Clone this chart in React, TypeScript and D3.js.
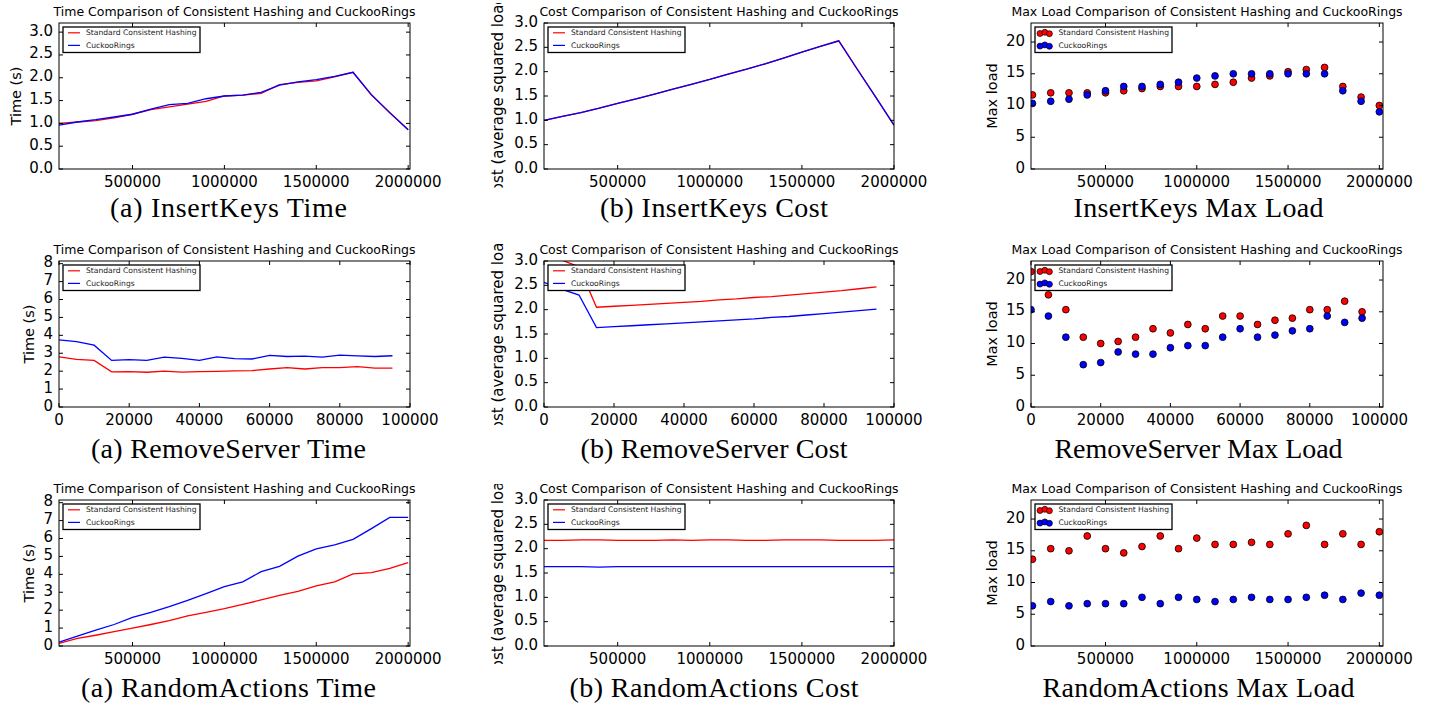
// App.tsx
//
// CuckooRings vs. standard consistent hashing — 3×3 grid of matplotlib-style
// panels (time / cost / max load for InsertKeys, RemoveServer, RandomActions),
// each with a LaTeX-like caption underneath.

import * as d3 from "d3";
import React from "react";

// ── Data ─────────────────────────────────────────────────────────────────────
const KEY_COUNTS = [
  100000, 200000, 300000, 400000, 500000, 600000, 700000, 800000, 900000, 1000000,
  1100000, 1200000, 1300000, 1400000, 1500000, 1600000, 1700000, 1800000, 1900000, 2000000,
];
const SERVERS_REMOVED = [
  0, 5000, 10000, 15000, 20000, 25000, 30000, 35000, 40000, 45000,
  50000, 55000, 60000, 65000, 70000, 75000, 80000, 85000, 90000, 95000,
];

const INSERT_TIME_STD    = [1.0, 1.03, 1.06, 1.12, 1.2, 1.3, 1.36, 1.42, 1.48, 1.6, 1.62, 1.66, 1.85, 1.9, 1.93, 2.02, 2.12, 1.62, 1.24, 0.86];
const INSERT_TIME_CUCKOO = [0.96, 1.03, 1.08, 1.14, 1.2, 1.31, 1.41, 1.44, 1.54, 1.6, 1.62, 1.68, 1.84, 1.91, 1.96, 2.03, 2.12, 1.63, 1.23, 0.86];

const INSERT_COST_STD    = [1.0, 1.08, 1.16, 1.25, 1.35, 1.44, 1.54, 1.64, 1.74, 1.84, 1.95, 2.05, 2.16, 2.28, 2.4, 2.52, 2.64, 2.06, 1.48, 0.9];
const INSERT_COST_CUCKOO = [1.0, 1.08, 1.16, 1.25, 1.35, 1.44, 1.54, 1.64, 1.74, 1.84, 1.95, 2.05, 2.16, 2.28, 2.4, 2.52, 2.63, 2.05, 1.48, 0.9];

const INSERT_LOAD_STD    = [11.67, 12, 12, 12, 12, 12.33, 12.67, 13, 13, 13, 13.33, 13.67, 14.33, 14.67, 15.33, 15.67, 16, 13, 11.33, 10];
const INSERT_LOAD_CUCKOO = [10.33, 10.67, 11, 11.67, 12.33, 13, 13, 13.33, 13.67, 14.33, 14.67, 15, 15, 15, 15, 15, 15, 12.33, 10.67, 9];

const REMOVE_TIME_STD    = [2.8, 2.66, 2.6, 1.96, 1.98, 1.94, 2.0, 1.95, 1.97, 1.99, 2.02, 2.03, 2.12, 2.2, 2.12, 2.2, 2.2, 2.25, 2.17, 2.17];
const REMOVE_TIME_CUCKOO = [3.75, 3.65, 3.45, 2.6, 2.65, 2.6, 2.78, 2.72, 2.6, 2.8, 2.7, 2.68, 2.88, 2.82, 2.84, 2.78, 2.9, 2.85, 2.82, 2.86];

const REMOVE_COST_STD    = [3.2, 3.02, 2.88, 2.05, 2.07, 2.09, 2.11, 2.13, 2.15, 2.17, 2.2, 2.22, 2.25, 2.27, 2.3, 2.33, 2.36, 2.39, 2.43, 2.47];
const REMOVE_COST_CUCKOO = [2.56, 2.42, 2.3, 1.63, 1.65, 1.67, 1.69, 1.71, 1.73, 1.75, 1.77, 1.79, 1.81, 1.84, 1.86, 1.89, 1.92, 1.95, 1.98, 2.01];

const REMOVE_LOAD_STD    = [21.33, 17.67, 15.33, 11, 10, 10.33, 11, 12.33, 11.67, 13, 12.33, 14.33, 14.33, 13, 13.67, 14, 15.33, 15.33, 16.67, 15];
const REMOVE_LOAD_CUCKOO = [15.33, 14.33, 11, 6.67, 7, 8.67, 8.33, 8.33, 9.33, 9.67, 9.67, 11, 12.33, 11, 11.33, 12, 12.33, 14.33, 13.33, 14];

const RANDOM_TIME_STD    = [0.15, 0.42, 0.6, 0.8, 1.0, 1.2, 1.42, 1.68, 1.88, 2.08, 2.32, 2.57, 2.82, 3.05, 3.35, 3.58, 4.03, 4.1, 4.33, 4.65];
const RANDOM_TIME_CUCKOO = [0.22, 0.55, 0.88, 1.2, 1.6, 1.88, 2.2, 2.55, 2.92, 3.32, 3.58, 4.15, 4.45, 5.02, 5.42, 5.65, 5.95, 6.55, 7.18, 7.18];

const RANDOM_COST_STD    = [2.17, 2.17, 2.18, 2.18, 2.17, 2.17, 2.17, 2.18, 2.17, 2.18, 2.18, 2.17, 2.17, 2.18, 2.18, 2.18, 2.17, 2.17, 2.17, 2.18];
const RANDOM_COST_CUCKOO = [1.63, 1.63, 1.63, 1.62, 1.63, 1.63, 1.63, 1.63, 1.63, 1.63, 1.63, 1.63, 1.63, 1.63, 1.63, 1.63, 1.63, 1.63, 1.63, 1.63];

const RANDOM_LOAD_STD    = [13.67, 15.33, 15, 17.33, 15.33, 14.67, 15.67, 17.33, 15.33, 17, 16, 16, 16.33, 16, 17.67, 19, 16, 17.67, 16, 18];
const RANDOM_LOAD_CUCKOO = [6.33, 7, 6.33, 6.67, 6.67, 6.67, 7.67, 6.67, 7.67, 7.33, 7, 7.33, 7.67, 7.33, 7.33, 7.67, 8, 7.33, 8.33, 8];

// ── Ticks & labels ───────────────────────────────────────────────────────────
const KEY_TICKS    = [500000, 1000000, 1500000, 2000000];
const SERVER_TICKS = [0, 20000, 40000, 60000, 80000, 100000];
const HALF_TICKS   = [0, 0.5, 1.0, 1.5, 2.0, 2.5, 3.0];
const TIME8_TICKS  = [0, 1, 2, 3, 4, 5, 6, 7, 8];
const LOAD_TICKS   = [0, 5, 10, 15, 20];

const SERIES_LABELS = ["Standard Consistent Hashing", "CuckooRings"];
const TITLE_TIME = "Time Comparison of Consistent Hashing and CuckooRings";
const TITLE_COST = "Cost Comparison of Consistent Hashing and CuckooRings";
const TITLE_LOAD = "Max Load Comparison of Consistent Hashing and CuckooRings";
const YLABEL_TIME = "Time (s)";
const YLABEL_COST = "Cost (average squared load)";
const YLABEL_LOAD = "Max load";

// ── Styling ──────────────────────────────────────────────────────────────────
const RED  = "#ff0000";
const BLUE = "#0000ff";
const SANS  = "'DejaVu Sans', sans-serif";
const SERIF = "'Liberation Serif', 'Times New Roman', serif";

const COLS = [
  { l: 59,   r: 410,  ylabX: 16,  capX: 228.5, ylabSize: 14.5 },
  { l: 544,  r: 894,  ylabX: 498, capX: 714,   ylabSize: 15 },
  { l: 1031, r: 1383, ylabX: 992, capX: 1198.5, ylabSize: 14.5 },
];
// clip = vertical extent of each sub-image (only the long cost label reaches it)
const ROWS = [
  { t: 23,  b: 169, titleY: 15.5, capY: 217, clip: [3, 187.5] },
  { t: 261, b: 407, titleY: 254,  capY: 458, clip: [242, 425] },
  { t: 500, b: 646, titleY: 493,  capY: 697, clip: [484, 664] },
];

interface PanelSpec {
  row: number;
  col: number;
  kind: "line" | "scatter";
  xs: number[];
  std: number[];
  cuckoo: number[];
  xDomain: [number, number];
  yDomain: [number, number];
  xTicks: number[];
  yTicks: number[];
  yFmt: (v: number) => string;
  title: string;
  ylabel: string;
  ylabX?: number;
  caption: string;
  captionW: number;
}

const fmt1 = d3.format(".1f");
const fmt0 = d3.format("d");

const PANELS: PanelSpec[] = [
  { row: 0, col: 0, kind: "line", xs: KEY_COUNTS, std: INSERT_TIME_STD, cuckoo: INSERT_TIME_CUCKOO,
    xDomain: [100000, 2010000], yDomain: [0, 3.2], xTicks: KEY_TICKS, yTicks: HALF_TICKS, yFmt: fmt1,
    title: TITLE_TIME, ylabel: YLABEL_TIME, caption: "(a) InsertKeys Time", captionW: 237 },
  { row: 0, col: 1, kind: "line", xs: KEY_COUNTS, std: INSERT_COST_STD, cuckoo: INSERT_COST_CUCKOO,
    xDomain: [100000, 2000000], yDomain: [0, 3], xTicks: KEY_TICKS, yTicks: HALF_TICKS, yFmt: fmt1,
    title: TITLE_COST, ylabel: YLABEL_COST, caption: "(b) InsertKeys Cost", captionW: 228 },
  { row: 0, col: 2, kind: "scatter", xs: KEY_COUNTS, std: INSERT_LOAD_STD, cuckoo: INSERT_LOAD_CUCKOO,
    xDomain: [92000, 2020000], yDomain: [0, 23], xTicks: KEY_TICKS, yTicks: LOAD_TICKS, yFmt: fmt0,
    title: TITLE_LOAD, ylabel: YLABEL_LOAD, caption: "InsertKeys Max Load", captionW: 250 },

  { row: 1, col: 0, kind: "line", xs: SERVERS_REMOVED, std: REMOVE_TIME_STD, cuckoo: REMOVE_TIME_CUCKOO,
    xDomain: [0, 100000], yDomain: [0, 8.15], xTicks: SERVER_TICKS, yTicks: TIME8_TICKS, yFmt: fmt0,
    title: TITLE_TIME, ylabel: YLABEL_TIME, ylabX: 29, caption: "(a) RemoveServer Time", captionW: 275 },
  { row: 1, col: 1, kind: "line", xs: SERVERS_REMOVED, std: REMOVE_COST_STD, cuckoo: REMOVE_COST_CUCKOO,
    xDomain: [0, 100000], yDomain: [0, 3], xTicks: SERVER_TICKS, yTicks: HALF_TICKS, yFmt: fmt1,
    title: TITLE_COST, ylabel: YLABEL_COST, caption: "(b) RemoveServer Cost", captionW: 267 },
  { row: 1, col: 2, kind: "scatter", xs: SERVERS_REMOVED, std: REMOVE_LOAD_STD, cuckoo: REMOVE_LOAD_CUCKOO,
    xDomain: [0, 101000], yDomain: [0, 23], xTicks: SERVER_TICKS, yTicks: LOAD_TICKS, yFmt: fmt0,
    title: TITLE_LOAD, ylabel: YLABEL_LOAD, caption: "RemoveServer Max Load", captionW: 288 },

  { row: 2, col: 0, kind: "line", xs: KEY_COUNTS, std: RANDOM_TIME_STD, cuckoo: RANDOM_TIME_CUCKOO,
    xDomain: [100000, 2010000], yDomain: [0, 8.15], xTicks: KEY_TICKS, yTicks: TIME8_TICKS, yFmt: fmt0,
    title: TITLE_TIME, ylabel: YLABEL_TIME, ylabX: 29, caption: "(a) RandomActions Time", captionW: 295 },
  { row: 2, col: 1, kind: "line", xs: KEY_COUNTS, std: RANDOM_COST_STD, cuckoo: RANDOM_COST_CUCKOO,
    xDomain: [100000, 2000000], yDomain: [0, 3], xTicks: KEY_TICKS, yTicks: HALF_TICKS, yFmt: fmt1,
    title: TITLE_COST, ylabel: YLABEL_COST, caption: "(b) RandomActions Cost", captionW: 289 },
  { row: 2, col: 2, kind: "scatter", xs: KEY_COUNTS, std: RANDOM_LOAD_STD, cuckoo: RANDOM_LOAD_CUCKOO,
    xDomain: [92000, 2020000], yDomain: [0, 23], xTicks: KEY_TICKS, yTicks: LOAD_TICKS, yFmt: fmt0,
    title: TITLE_LOAD, ylabel: YLABEL_LOAD, caption: "RandomActions Max Load", captionW: 312 },
];

// ── Legend ───────────────────────────────────────────────────────────────────
function Legend({ x0, y0, scatter }: { x0: number; y0: number; scatter: boolean }) {
  const rows = [y0 + 5.8, y0 + 18.4];
  const colors = [RED, BLUE];
  return (
    <g>
      <rect x={x0} y={y0} width={137} height={25.5} fill="#fff" stroke="#000" strokeWidth={1.3} />
      {rows.map((ry, i) => (
        <g key={i}>
          {scatter ? (
            [0, 4.8, 9.4].map((dx, k) => (
              <circle key={k} cx={x0 + 5 + dx} cy={ry + [0.7, -0.5, 0.9][k]} r={3}
                fill={colors[i]} stroke="#000" strokeWidth={0.7} />
            ))
          ) : (
            <line x1={x0 + 5} x2={x0 + 17} y1={ry} y2={ry} stroke={colors[i]} strokeWidth={1.2} />
          )}
          <text x={x0 + (scatter ? 23.5 : 23)} y={ry} dy="0.34em" fontSize={7.6}
            fontFamily={SANS} fill="#222">
            {SERIES_LABELS[i]}
          </text>
        </g>
      ))}
    </g>
  );
}

// ── One subplot ──────────────────────────────────────────────────────────────
function Panel({ spec, idx }: { spec: PanelSpec; idx: number }) {
  const col = COLS[spec.col];
  const row = ROWS[spec.row];
  const { l, r } = col;
  const { t, b } = row;

  const x = d3.scaleLinear().domain(spec.xDomain).range([l, r]);
  const y = d3.scaleLinear().domain(spec.yDomain).range([b, t]);
  const clipId = `plot-clip-${idx}`;
  const labClipId = `lab-clip-${idx}`;

  const line = d3
    .line<number>()
    .x((_, i) => x(spec.xs[i]))
    .y((d) => y(d));

  const xt = spec.xTicks.filter((v) => v >= spec.xDomain[0] && v <= spec.xDomain[1] + 1);
  const yt = spec.yTicks.filter((v) => v >= spec.yDomain[0] && v <= spec.yDomain[1]);
  const midY = (t + b) / 2;
  const ylabX = spec.ylabX ?? col.ylabX;

  return (
    <g>
      <defs>
        <clipPath id={clipId}>
          <rect x={l} y={t} width={r - l} height={b - t} />
        </clipPath>
        <clipPath id={labClipId}>
          <rect x={0} y={row.clip[0]} width={1429} height={row.clip[1] - row.clip[0]} />
        </clipPath>
      </defs>

      {/* Title */}
      <text x={(l + r) / 2} y={row.titleY} textAnchor="middle" fontSize={12.5}
        fontFamily={SANS} fill="#000">
        {spec.title}
      </text>

      {/* Series */}
      <g clipPath={`url(#${clipId})`}>
        {spec.kind === "line" ? (
          <>
            <path d={line(spec.std) ?? ""} fill="none" stroke={RED} strokeWidth={1.3} />
            <path d={line(spec.cuckoo) ?? ""} fill="none" stroke={BLUE} strokeWidth={1.3} />
          </>
        ) : (
          <>
            {spec.std.map((v, i) => (
              <circle key={`s${i}`} cx={x(spec.xs[i])} cy={y(v)} r={3.4}
                fill={RED} stroke="#000" strokeWidth={0.8} />
            ))}
            {spec.cuckoo.map((v, i) => (
              <circle key={`c${i}`} cx={x(spec.xs[i])} cy={y(v)} r={3.4}
                fill={BLUE} stroke="#000" strokeWidth={0.8} />
            ))}
          </>
        )}
      </g>

      {/* Frame */}
      <rect x={l} y={t} width={r - l} height={b - t} fill="none" stroke="#000" strokeWidth={1} />

      {/* Inward ticks on all four sides */}
      {xt.map((v) => (
        <g key={`xt${v}`}>
          <line x1={x(v)} x2={x(v)} y1={b} y2={b - 4} stroke="#000" strokeWidth={1} />
          <line x1={x(v)} x2={x(v)} y1={t} y2={t + 4} stroke="#000" strokeWidth={1} />
          <text x={x(v)} y={b + 18} textAnchor="middle" fontSize={15} fontFamily={SANS} fill="#000">
            {fmt0(v)}
          </text>
        </g>
      ))}
      {yt.map((v) => (
        <g key={`yt${v}`}>
          <line x1={l} x2={l + 4} y1={y(v)} y2={y(v)} stroke="#000" strokeWidth={1} />
          <line x1={r} x2={r - 4} y1={y(v)} y2={y(v)} stroke="#000" strokeWidth={1} />
          <text x={l - 6} y={y(v) + 3.5} textAnchor="end" fontSize={15} fontFamily={SANS} fill="#000">
            {spec.yFmt(v)}
          </text>
        </g>
      ))}

      {/* Y label (cut off by the sub-image edge in the cost column, as in the source) */}
      <g clipPath={`url(#${labClipId})`}>
        <text transform={`translate(${ylabX},${midY}) rotate(-90)`} textAnchor="middle" dy="0.35em"
          fontSize={col.ylabSize} fontFamily={SANS} fill="#000">
          {spec.ylabel}
        </text>
      </g>

      <Legend x0={l + 4} y0={t + 4} scatter={spec.kind === "scatter"} />

      {/* Caption */}
      <text x={col.capX} y={row.capY} textAnchor="middle" fontSize={28} fontFamily={SERIF}
        fill="#000" textLength={spec.captionW} lengthAdjust="spacing">
        {spec.caption}
      </text>
    </g>
  );
}

export default function App() {
  return (
    <svg width={1429} height={704} viewBox="0 0 1429 704"
      style={{ position: "absolute", left: 0, top: 0, background: "#fff" }}>
      <rect x={0} y={0} width={1429} height={704} fill="#fff" />
      {PANELS.map((p, i) => (
        <Panel key={i} spec={p} idx={i} />
      ))}
    </svg>
  );
}
